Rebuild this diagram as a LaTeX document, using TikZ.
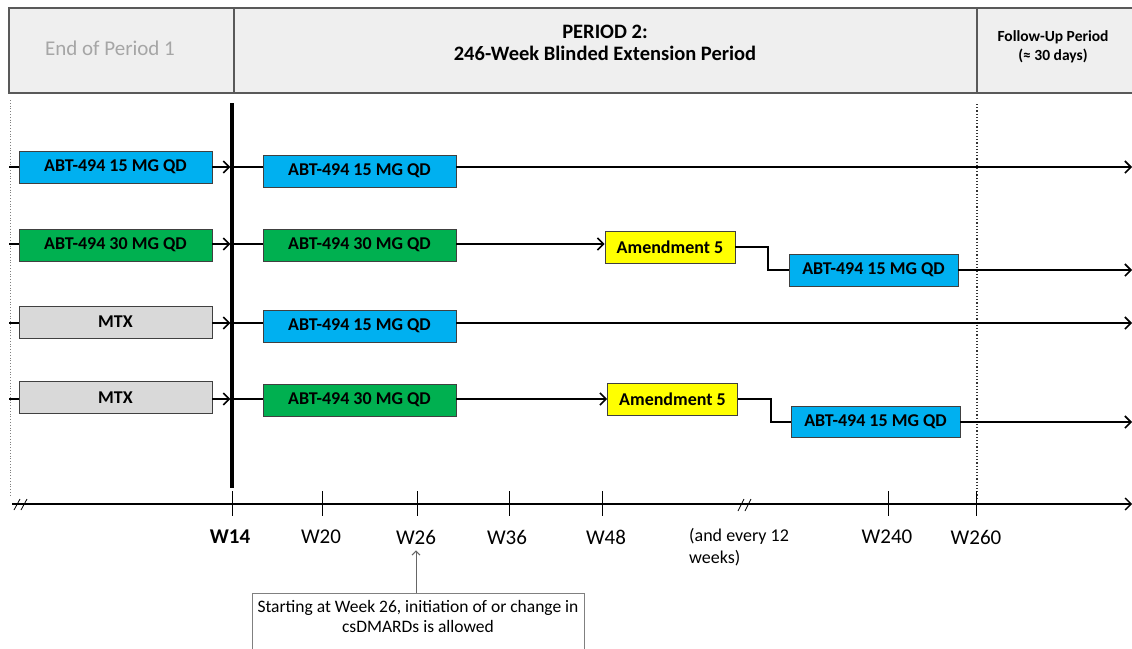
\documentclass[tikz,border=0pt]{standalone}
\usepackage{fontspec}
\setmainfont{Carlito}
\usetikzlibrary{arrows.meta}
\definecolor{cblue}{HTML}{00B0F0}
\definecolor{cgreen}{HTML}{00B050}
\definecolor{cyellow}{HTML}{FFFF00}
\definecolor{cgray}{HTML}{D9D9D9}
\definecolor{hdrfill}{HTML}{EFEFEF}
\definecolor{hdrline}{HTML}{595959}
\definecolor{fadetext}{HTML}{A6A6A6}
\begin{document}
\begin{tikzpicture}[x=1pt,y=-1pt,
  box/.style={draw=black!75, line width=0.8pt, minimum width=193pt, minimum height=32pt,
    inner sep=0pt, font=\fontsize{18}{20}\selectfont\bfseries},
  amend/.style={box, fill=cyellow, minimum width=130pt},
  conn/.style={line width=1.8pt, black},
  arr/.style={conn, -{Straight Barb[length=6pt,width=12pt,line width=1.6pt]}},
  warr/.style={arr, shorten >=1.6pt},
  tick/.style={line width=0.9pt, black},
  wlab/.style={font=\fontsize{21}{23}\selectfont, inner sep=0pt},
  hdrtext/.style={font=\fontsize{20.5}{22}\selectfont\bfseries, align=center},
]
\useasboundingbox (0,0) rectangle (1132,648);
\fill[white] (0,0) rectangle (1132,648);

% header
\fill[hdrfill] (9,8) rectangle (1132,93);
\draw[hdrline, line width=1.2pt] (1132,8) -- (9,8) -- (9,93) -- (1132,93);
\draw[hdrline, line width=1.2pt] (234,8) -- (234,93);
\draw[hdrline, line width=1.2pt] (977,8) -- (977,93);
\node[font=\fontsize{21}{23}\selectfont, text=fadetext] (p1) at (110,48) {End of Period 1};
\node[hdrtext] (p2) at (605,43) {PERIOD 2:\\246-Week Blinded Extension Period};
\node[font=\fontsize{15.5}{19}\selectfont\bfseries, align=center] (fu) at (1053,47) {Follow-Up Period\\(≈ 30 days)};

% vertical guide lines
\draw[gray, line width=0.8pt, dotted] (10,100) -- (10,497);
\draw[black!80, line width=1.2pt, dotted] (977,104) -- (977,498);
\draw[black, line width=3.2pt] (232,103) -- (232,488);

% row 1
\coordinate (s1) at (9,167);
\coordinate (m1) at (232,167);
\coordinate (e1) at (1132,167);
\node[box, fill=cblue] (a1) at (115.5,167) {ABT-494 15 MG QD};
\node[box, fill=cblue] (b1) at (359.5,171) {ABT-494 15 MG QD};
\draw[conn] (s1) -- (a1.west);
\draw[warr] (a1.east) -- (m1);
\draw[conn] (m1) -- (b1.west |- m1);
\draw[arr] (b1.east |- e1) -- (e1);

% row 2
\coordinate (s2) at (9,244);
\coordinate (m2) at (232,244);
\coordinate (e2) at (1132,270);
\node[box, fill=cgreen] (a2) at (115.5,245) {ABT-494 30 MG QD};
\node[box, fill=cgreen] (b2) at (359.5,245) {ABT-494 30 MG QD};
\node[amend] (c2) at (670,247) {Amendment 5};
\node[box, fill=cblue, minimum width=169pt] (d2) at (873.5,270) {ABT-494 15 MG QD};
\draw[conn] (s2) -- (a2.west |- s2);
\draw[warr] (a2.east |- m2) -- (m2);
\draw[conn] (m2) -- (b2.west |- m2);
\draw[arr] (b2.east |- m2) -- (c2.west |- m2);
\draw[conn] (c2.east) -- (768,247) -- (768,270) -- (d2.west);
\draw[arr] (d2.east) -- (e2);

% row 3
\coordinate (s3) at (9,323);
\coordinate (m3) at (232,323);
\coordinate (e3) at (1132,323);
\node[box, fill=cgray] (a3) at (115.5,322) {MTX};
\node[box, fill=cblue] (b3) at (359.5,326) {ABT-494 15 MG QD};
\draw[conn] (s3) -- (a3.west |- s3);
\draw[warr] (a3.east |- m3) -- (m3);
\draw[conn] (m3) -- (b3.west |- m3);
\draw[arr] (b3.east |- e3) -- (e3);

% row 4
\coordinate (s4) at (9,399);
\coordinate (m4) at (232,399);
\coordinate (e4) at (1132,422);
\node[box, fill=cgray] (a4) at (115.5,397.5) {MTX};
\node[box, fill=cgreen] (b4) at (359.5,400) {ABT-494 30 MG QD};
\node[amend] (c4) at (672.5,399) {Amendment 5};
\node[box, fill=cblue, minimum width=169pt, minimum height=31pt] (d4) at (875.5,422) {ABT-494 15 MG QD};
\draw[conn] (s4) -- (a4.west |- s4);
\draw[warr] (a4.east |- m4) -- (m4);
\draw[conn] (m4) -- (b4.west |- m4);
\draw[arr] (b4.east |- m4) -- (c4.west |- m4);
\draw[conn] (c4.east) -- (771,399) -- (771,422) -- (d4.west);
\draw[arr] (d4.east) -- (e4);

% time axis
\coordinate (ax0) at (12,504);
\coordinate (ax1) at (1132,504);
\draw[line width=1.4pt, -{Straight Barb[length=6pt,width=12pt,line width=1.3pt]}] (ax0) -- (ax1);
\draw[line width=0.8pt] (14,510) -- (20,499) (21,510) -- (27,499);
\draw[line width=0.8pt] (738,511) -- (744,499) (745,511) -- (751,499);
\foreach \x in {232,322,417,509,602,888,976} \draw[tick] (\x,491) -- (\x,516);

\node[wlab, font=\fontsize{21}{23}\selectfont\bfseries] (w14) at (230,537) {W14};
\node[wlab] (w20) at (321,537) {W20};
\node[wlab] (w26) at (416,537) {W26};
\node[wlab] (w36) at (507,537) {W36};
\node[wlab] (w48) at (606,537) {W48};
\node[font=\fontsize{18}{22}\selectfont, align=left, anchor=north west, inner sep=0pt] (every) at (689,528) {(and every 12\\weeks)};
\node[wlab] (w240) at (887,537) {W240};
\node[wlab] (w260) at (976,537) {W260};

% annotation
\node[draw=gray, line width=0.9pt, minimum width=332pt, minimum height=80pt, anchor=north west, inner sep=0pt] (note) at (252,593) {};
\node[font=\fontsize{17.5}{20}\selectfont, align=center] (notetext) at (418,616) {Starting at Week 26, initiation of or change in\\csDMARDs is allowed};
\draw[gray!80!black, line width=1pt, -{Straight Barb[length=4pt,width=8pt,line width=1pt]}] (note.north -| w26) -- ([yshift=-6pt]w26.south);
\end{tikzpicture}
\end{document}
